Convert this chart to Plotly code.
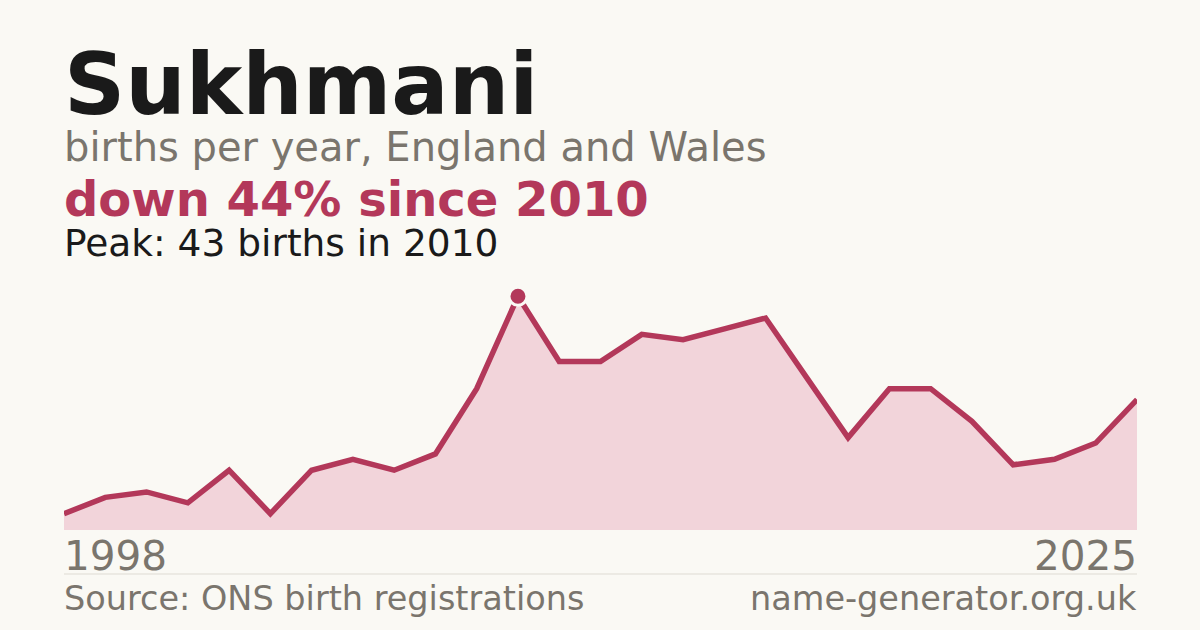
import plotly.graph_objects as go

# Births per year (one early year is absent from the source series)
years = [1998, 1999, 2000, 2001, 2002, 2003, 2005, 2006, 2007, 2008, 2009, 2010,
         2011, 2012, 2013, 2014, 2015, 2016, 2017, 2018, 2019, 2020, 2021, 2022,
         2023, 2024, 2025]
births = [3, 6, 7, 5, 11, 3, 11, 13, 11, 14, 26, 43,
          31, 31, 36, 35, 37, 39, 28, 17, 26, 26, 20, 12,
          13, 16, 24]

name = "Sukhmani"
subtitle = "births per year, England and Wales"
change_text = "down 44% since 2010"
peak_text = "Peak: 43 births in 2010"
source_text = "Source: ONS birth registrations"
site_text = "name-generator.org.uk"

BG = "#faf9f4"
RED = "#b3385a"
FILL = "#f2d4da"
DARK = "#1a1a1a"
GREY = "#7a756d"

# plot area runs from pixel 280 to 530 vertically
TOP, BOTTOM = 280, 530


def py(y_pixel):
    return (BOTTOM - y_pixel) / (BOTTOM - TOP)


x = [str(y) for y in years]
peak_i = births.index(max(births))

fig = go.Figure()
fig.add_trace(go.Scatter(
    x=x, y=births, mode="lines",
    line=dict(color=RED, width=5.5),
    fill="tozeroy", fillcolor=FILL,
    hoverinfo="skip",
))
fig.add_trace(go.Scatter(
    x=[x[peak_i]], y=[births[peak_i]], mode="markers",
    marker=dict(size=18, color=RED, line=dict(color=BG, width=3)),
    hoverinfo="skip",
))

font = "DejaVu Sans"
annotations = [
    dict(text="<b>%s</b>" % name, x=0, y=py(112.5 - 0.33 * 85), size=85, color=DARK, anchor="left"),
    dict(text=subtitle, x=0, y=py(160 - 0.33 * 40), size=40, color=GREY, anchor="left"),
    dict(text="<b>%s</b>" % change_text, x=0, y=py(214.5 - 0.33 * 48), size=48, color=RED, anchor="left"),
    dict(text=peak_text, x=0, y=py(255 - 0.33 * 37.5), size=37.5, color=DARK, anchor="left"),
    dict(text=str(years[0]), x=0, y=py(569.5 - 0.33 * 40.5), size=40.5, color=GREY, anchor="left"),
    dict(text=str(years[-1]), x=1, y=py(569.5 - 0.33 * 40.5), size=40.5, color=GREY, anchor="right"),
    dict(text=source_text, x=0, y=py(610 - 0.33 * 33.5), size=33.5, color=GREY, anchor="left"),
    dict(text=site_text, x=1, y=py(610 - 0.33 * 33.5), size=33.5, color=GREY, anchor="right"),
]
for a in annotations:
    fig.add_annotation(
        text=a["text"], x=a["x"], y=a["y"], xref="paper", yref="paper",
        xanchor=a["anchor"], yanchor="middle", showarrow=False,
        xshift=-2 if a["anchor"] == "left" else 2,
        font=dict(family=font, size=a["size"], color=a["color"]),
    )

fig.add_shape(type="line", xref="paper", yref="paper", x0=0, x1=1,
              y0=py(574), y1=py(574), line=dict(color="#dedbd3", width=1))

fig.update_layout(
    width=1200, height=630,
    paper_bgcolor=BG, plot_bgcolor=BG,
    margin=dict(l=64, r=63, t=TOP, b=630 - BOTTOM),
    showlegend=False,
    xaxis=dict(type="category", range=[0, len(x) - 1], visible=False),
    yaxis=dict(range=[0, 46], visible=False),
)

fig.write_html(
    "out.html",
    config={"displayModeBar": False},
    post_script="document.body.style.margin='0';document.body.style.background='%s';" % BG,
)
